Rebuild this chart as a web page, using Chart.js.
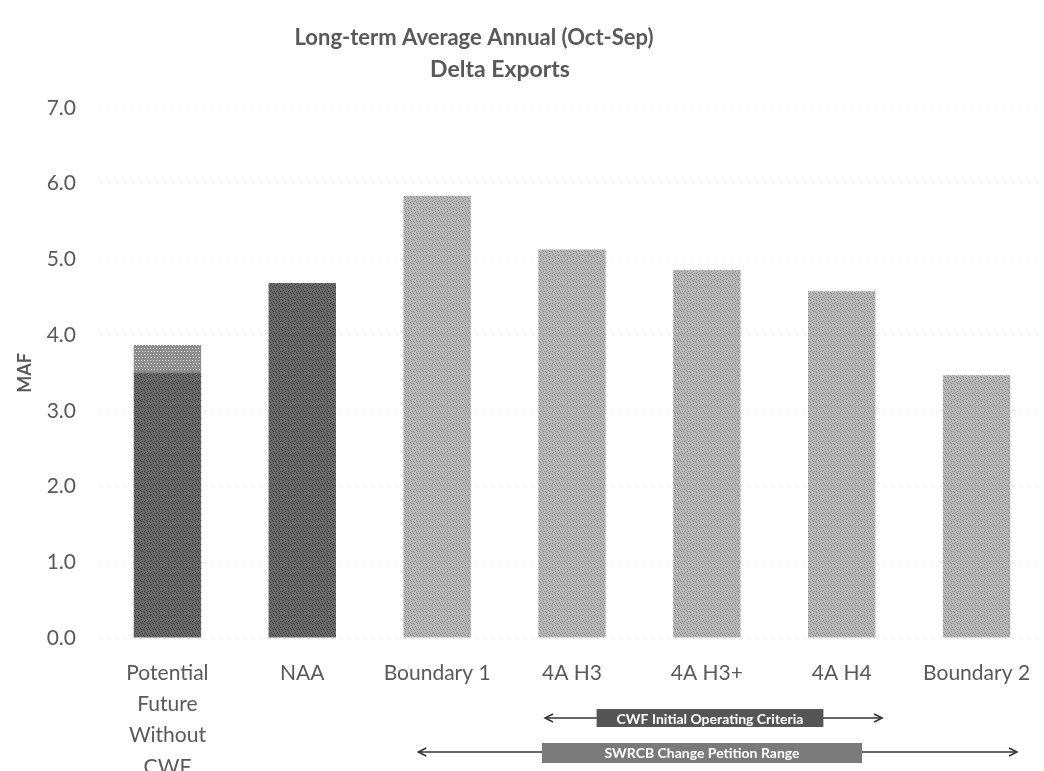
<!DOCTYPE html>
<html>
<head>
<meta charset="utf-8">
<script src="https://cdn.jsdelivr.net/npm/chart.js@4/dist/chart.umd.min.js"></script>
<style>
  html, body { margin: 0; padding: 0; background: #fff; }
  #wrap { width: 1044px; height: 771px; }
</style>
</head>
<body>
<div id="wrap"><canvas id="myChart"></canvas></div>
<script>
(function() {
  "use strict";

  // data (MAF)
  var categories = [
    ["Potential", "Future", "Without", "CWF"],
    "NAA", "Boundary 1", "4A H3", "4A H3+", "4A H4", "Boundary 2"
  ];
  var baseValues = [3.51, 4.69, 5.84, 5.13, 4.86, 4.58, 3.47];
  var capValues = [0.36, 0, 0, 0, 0, 0, 0];
  var yTicks = [0, 1, 2, 3, 4, 5, 6, 7];

  var titleLines = ["Long-term Average Annual (Oct-Sep)", "Delta Exports"];
  // range arrows under the axis: [from index, to index, text]
  var ranges = [
    { from: 3, to: 5, text: "CWF Initial Operating Criteria" },
    { from: 2, to: 6, text: "SWRCB Change Petition Range" }
  ];

  var textColor = "#595959";
  var fontFamily = "Lato, 'Open Sans', sans-serif";

  // small speckled fills to imitate the scanned textures
  var makePattern = function(a, b, dots) {
    var c = document.createElement("canvas");
    c.width = 6; c.height = 6;
    var g = c.getContext("2d");
    g.fillStyle = a;
    g.fillRect(0, 0, 6, 6);
    g.fillStyle = b;
    dots.forEach(function(d) { g.fillRect(d[0], d[1], 1, 1); });
    return g.createPattern(c, "repeat");
  };
  var speck = [[0,0],[3,1],[1,2],[4,3],[2,4],[5,5],[0,3],[3,5]];
  var dark = makePattern("#6b6b6b", "#3f3f3f", speck);
  var light = makePattern("#b9b9b9", "#8a8a8a", speck);
  var capFill = makePattern("#8d8d8d", "#e6e6e6", [[0,0],[3,0],[1,3],[4,3]]);

  var baseColors = [dark, dark, light, light, light, light, light];

  var titlePlugin = {
    id: "titleLines",
    afterDraw: function(chart) {
      var ctx = chart.ctx;
      ctx.save();
      ctx.fillStyle = textColor;
      ctx.font = "bold 22px " + fontFamily;
      ctx.textAlign = "center";
      ctx.textBaseline = "middle";
      ctx.fillText(titleLines[0], 474, 38);
      ctx.font = "bold 23px " + fontFamily;
      ctx.fillText(titleLines[1], 500, 70);
      ctx.restore();
    }
  };

  var rangePlugin = {
    id: "ranges",
    afterDraw: function(chart) {
      var ctx = chart.ctx, x = chart.scales.x;
      var step = x.getPixelForValue(1) - x.getPixelForValue(0);
      ranges.forEach(function(r, i) {
        var y = i === 0 ? 718 : 752;
        var x0 = x.getPixelForValue(r.from) - step * (i === 0 ? 0.2 : 0.14);
        var x1 = x.getPixelForValue(r.to) + step * 0.3;
        ctx.save();
        ctx.font = "bold 14px " + fontFamily;
        var tw = ctx.measureText(r.text).width;
        var boxW = i === 0 ? tw + 40 : tw + 125;
        var cx = i === 0 ? 710 : 702;
        var bx = cx - boxW / 2;
        // arrow line
        ctx.strokeStyle = "#333";
        ctx.lineWidth = 1.5;
        ctx.beginPath();
        ctx.moveTo(x0, y); ctx.lineTo(x1, y);
        ctx.stroke();
        [[x0, 1], [x1, -1]].forEach(function(p) {
          ctx.beginPath();
          ctx.moveTo(p[0] + 8 * p[1], y - 4);
          ctx.lineTo(p[0], y);
          ctx.lineTo(p[0] + 8 * p[1], y + 4);
          ctx.stroke();
        });
        // box
        ctx.fillStyle = i === 0 ? "#555555" : "#7a7a7a";
        ctx.fillRect(bx, y - 9, boxW, i === 0 ? 18 : 20);
        ctx.fillStyle = "#fff";
        ctx.textAlign = "center";
        ctx.textBaseline = "middle";
        ctx.fillText(r.text, cx, y + 1);
        ctx.restore();
      });
    }
  };

  var ctx = document.getElementById("myChart").getContext("2d");
  new Chart(ctx, {
    type: "bar",
    data: {
      labels: categories,
      datasets: [
        { data: baseValues, backgroundColor: baseColors, stack: "s" },
        { data: capValues, backgroundColor: capFill, stack: "s" }
      ]
    },
    options: {
      responsive: true,
      maintainAspectRatio: false,
      animation: false,
      layout: { padding: { top: 108, right: 0, left: 0, bottom: 0 } },
      plugins: {
        legend: { display: false },
        tooltip: { enabled: false }
      },
      datasets: { bar: { categoryPercentage: 1.0, barPercentage: 0.5 } },
      scales: {
        x: {
          stacked: true,
          grid: { display: false },
          border: { display: false },
          ticks: {
            color: textColor,
            font: { family: fontFamily, size: 21, lineHeight: 1.48 },
            padding: 12,
            maxRotation: 0,
            autoSkip: false
          },
          afterFit: function(s) { s.height = 133; }
        },
        y: {
          stacked: true,
          min: 0,
          max: 7,
          afterBuildTicks: function(s) {
            s.ticks = yTicks.map(function(v) { return { value: v }; });
          },
          grid: { color: "#ebebeb", drawTicks: false },
          border: { display: false, dash: [2, 6] },
          ticks: {
            color: textColor,
            font: { family: fontFamily, size: 21 },
            padding: 24,
            callback: function(v) { return Number(v).toFixed(1); }
          },
          title: {
            display: true,
            text: "MAF",
            color: textColor,
            font: { family: fontFamily, size: 18, weight: "bold" },
            padding: { top: 14, bottom: 0 }
          },
          afterFit: function(s) { s.width = 100; }
        }
      }
    },
    plugins: [titlePlugin, rangePlugin]
  });
})();
</script>
</body>
</html>
